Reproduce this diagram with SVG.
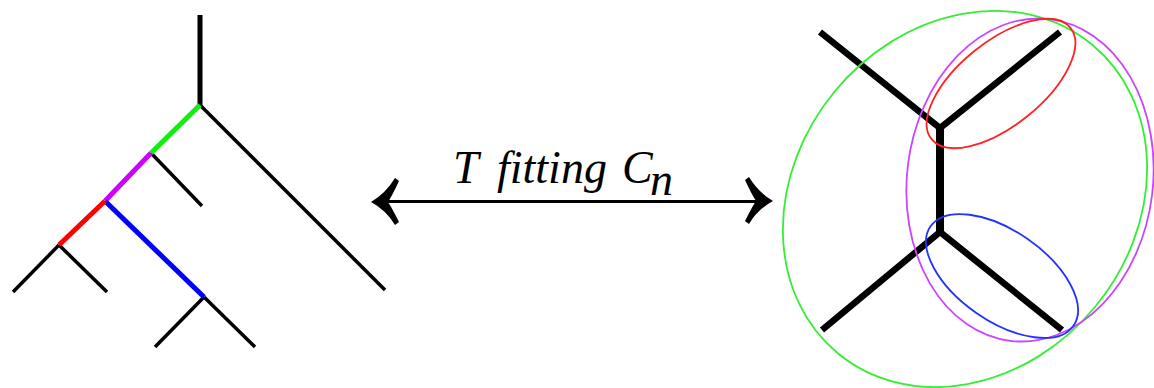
<svg xmlns="http://www.w3.org/2000/svg" width="1154" height="388" viewBox="0 0 1154 388">
<style>
.k{stroke:#000;stroke-width:3.5;fill:none;stroke-linecap:butt}
.c{stroke-width:5;fill:none;stroke-linecap:butt}
.r{stroke:#000;stroke-width:6.5;fill:none;stroke-linecap:butt;stroke-linejoin:miter}
.e{fill:none;stroke-width:1.8}
</style>
<rect width="1154" height="388" fill="#fff"/>
<g id="left-tree">
<line class="k" x1="200" y1="15" x2="200" y2="106" style="stroke-width:5"/>
<line class="k" x1="200" y1="105" x2="385" y2="290"/>
<line class="k" x1="151" y1="153" x2="202" y2="206"/>
<line class="k" x1="59" y1="245" x2="13" y2="292"/>
<line class="k" x1="59" y1="245" x2="107" y2="292"/>
<line class="k" x1="204" y1="297" x2="155" y2="347"/>
<line class="k" x1="204" y1="297" x2="255" y2="347"/>
<line class="c" x1="200" y1="105" x2="151" y2="153" stroke="#11ee11"/>
<line class="c" x1="151" y1="153" x2="105" y2="201" stroke="#cc00ff"/>
<line class="c" x1="105" y1="201" x2="204" y2="297" stroke="#0000ff"/>
<line class="c" x1="105" y1="201" x2="59" y2="245" stroke="#ff0000"/>
</g>
<g id="connectors">
<line x1="380" y1="201.5" x2="764" y2="201.5" stroke="#000" stroke-width="3"/>
<path d="M371,202 Q386,193 395,178 L399,181 Q392,196 388,202 Q392,208 399,222 L395,225 Q386,210 371,202 Z" fill="#000"/>
<path d="M773,201 Q758,192 749,177 L745,180 Q752,195 756,201 Q752,207 745,221 L749,224 Q758,209 773,201 Z" fill="#000"/>
</g>
<g id="label">
<text x="453" y="183" font-family="'Liberation Serif'" font-style="italic" font-size="46">T</text>
<text x="497" y="183" font-family="'Liberation Serif'" font-style="italic" font-size="46">fitting</text>
<text x="622" y="183" font-family="'Liberation Serif'" font-style="italic" font-size="46">C</text>
<text x="650" y="195" font-family="'Liberation Serif'" font-style="italic" font-size="46">n</text>
</g>
<g id="right-tree">
<polyline class="r" points="820,32 940,128 1060,32"/>
<line class="r" x1="940" y1="127" x2="940" y2="233" style="stroke-width:8"/>
<polyline class="r" points="822,330 940,232 1062,330"/>
</g>
<g id="clusters">
<ellipse class="e" cx="965" cy="199" rx="200" ry="169" transform="rotate(-50.6 965 199)" stroke="#33ee33"/>
<ellipse class="e" cx="1030" cy="180" rx="123" ry="162" transform="rotate(7 1030 180)" stroke="#cc44ff"/>
<ellipse class="e" cx="1001" cy="83.5" rx="89" ry="42" transform="rotate(-38.7 1001 83.5)" stroke="#ff2222"/>
<ellipse class="e" cx="1002" cy="276" rx="87" ry="45" transform="rotate(34.8 1002 276)" stroke="#2233ff"/>
</g>
</svg>
